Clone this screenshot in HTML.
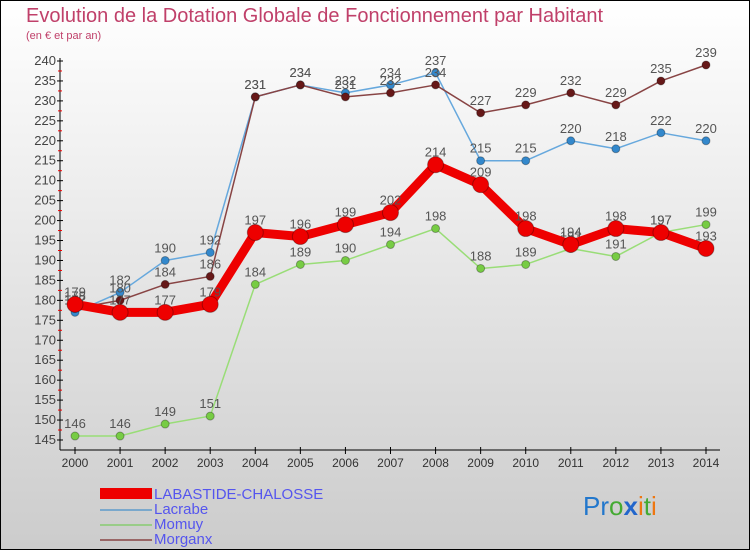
<!DOCTYPE html>
<html><head><meta charset="utf-8"><style>
body{margin:0}
#c{width:750px;height:550px;position:relative;overflow:hidden;font-family:"Liberation Sans",sans-serif}
</style></head><body>
<div id="c">
<svg id="s" width="750" height="550" xmlns="http://www.w3.org/2000/svg" font-family="'Liberation Sans',sans-serif">
<defs><linearGradient id="bg" x1="0" y1="0" x2="0" y2="1"><stop offset="0" stop-color="#ffffff"/><stop offset="1" stop-color="#cccccc"/></linearGradient></defs>
<rect x="0.5" y="0.5" width="749" height="549" fill="url(#bg)" stroke="#000"/>
<text x="26" y="22" font-size="20" fill="#c0406a">Evolution de la Dotation Globale de Fonctionnement par Habitant</text>
<text x="26" y="39" font-size="11" fill="#c0406a">(en € et par an)</text>
<g id="axes"></g><g id="series"></g>
<g>
<rect x="100" y="488" width="52" height="11" fill="#ee0000"/>
<text x="154" y="499" font-size="15" fill="#5555ee">LABASTIDE-CHALOSSE</text>
<rect x="100" y="509" width="52" height="2" fill="#7aa8cc"/>
<text x="154" y="514" font-size="15" fill="#5555ee">Lacrabe</text>
<rect x="100" y="524" width="52" height="2" fill="#99cc88"/>
<text x="154" y="529" font-size="15" fill="#5555ee">Momuy</text>
<rect x="100" y="539" width="52" height="2" fill="#996666"/>
<text x="154" y="544" font-size="15" fill="#5555ee">Morganx</text>
</g>
<g font-size="26">
<text x="583" y="515"><tspan fill="#2277cc">Pr</tspan><tspan fill="#44aa33">o</tspan><tspan fill="#2266cc" font-weight="bold">x</tspan><tspan fill="#ee7711">i</tspan><tspan fill="#44aa33">t</tspan><tspan fill="#ee7711">i</tspan></text>
</g>
</svg>
</div>
<script>
const years=["2000","2001","2002","2003","2004","2005","2006","2007","2008","2009","2010","2011","2012","2013","2014"];
const yTicks=[145,150,155,160,165,170,175,180,185,190,195,200,205,210,215,220,225,230,235,240];
const labastide=[179,177,177,179,197,196,199,202,214,209,198,194,198,197,193];
const lacrabe=[177,182,190,192,231,234,232,234,237,215,215,220,218,222,220];
const momuy=[146,146,149,151,184,189,190,194,198,188,189,193,191,197,199];
const morganx=[178,180,184,186,231,234,231,232,234,227,229,232,229,235,239];
const NS="http://www.w3.org/2000/svg";
const X=i=>75+i*(706-75)/(years.length-1);
const Y=v=>61+(240-v)*(440-61)/(240-145);
function mk(t,a,p){const e=document.createElementNS(NS,t);for(const k in a)e.setAttribute(k,a[k]);p.appendChild(e);return e;}
const ax=document.getElementById('axes');
let l=mk('line',{x1:60,y1:58,x2:60,y2:450,stroke:'#000'},ax);

l=mk('line',{x1:60,y1:450,x2:720,y2:450,stroke:'#000'},ax);

yTicks.forEach((v,i)=>{const y=Y(v);
 mk('line',{x1:57,y1:y,x2:63,y2:y,stroke:'#000'},ax);
 if(i<yTicks.length-1){mk('line',{x1:58,y1:Y(v+2.5),x2:62,y2:Y(v+2.5),stroke:'#e00'},ax);}
 const t=mk('text',{x:56,y:y+4,'font-size':13,fill:'#444','text-anchor':'end'},ax);t.textContent=v;
 });
years.forEach((yr,i)=>{const x=X(i);mk('line',{x1:x,y1:447,x2:x,y2:454,stroke:'#000'},ax);
 const t=mk('text',{x:x,y:467,'font-size':12,fill:'#333','text-anchor':'middle'},ax);t.textContent=yr;
 });
const sg=document.getElementById('series');
function draw(name,data,color,w,r,dot){
 const g=mk('g',{},sg);
 const p=mk('polyline',{points:data.map((v,i)=>X(i)+','+Y(v)).join(' '),fill:'none',stroke:color,'stroke-width':w,'stroke-linejoin':'round'},g);
 
 data.forEach((v,i)=>{const c=mk('circle',{cx:X(i),cy:Y(v),r:r,fill:dot,stroke:'rgba(0,0,0,0.3)','stroke-width':1},g);
  
  const t=mk('text',{x:X(i),y:Y(v)-8,'font-size':13,fill:'#555','text-anchor':'middle'},g);t.textContent=v;
  });
}
draw('momuy',momuy,'#99dd77',1.5,4,'#77cc44');
draw('lacrabe',lacrabe,'#66a8dd',1.5,4,'#3388cc');
draw('morganx',morganx,'#884444',1.5,4,'#661818');
draw('labastide',labastide,'#ee0000',9,8,'#ee0000');
</script>
</body></html>
